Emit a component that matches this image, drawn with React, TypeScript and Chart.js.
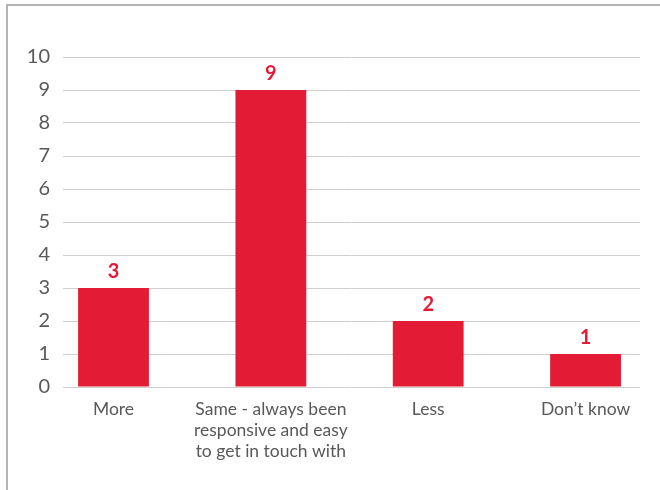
import React, { useEffect, useRef } from "react";
import { Chart, registerables } from "chart.js";

Chart.register(...registerables);

const categories: string[][] = [
  ["More"],
  ["Same - always been", "responsive and easy", "to get in touch with"],
  ["Less"],
  ["Don\u2019t know"],
];
const values: number[] = [3, 9, 2, 1];
const yTicks: number[] = [0, 1, 2, 3, 4, 5, 6, 7, 8, 9, 10];

const RED = "#e31b35";
const TEXT = "#595959";
const FONT = "Lato, 'Open Sans', sans-serif";

const labelPlugin = {
  id: "barValueLabels",
  afterDatasetsDraw(chart: any) {
    const ctx = chart.ctx;
    const meta = chart.getDatasetMeta(0);
    ctx.save();
    ctx.fillStyle = RED;
    ctx.font = `bold 20px ${FONT}`;
    ctx.textAlign = "center";
    ctx.textBaseline = "bottom";
    meta.data.forEach((bar: any, i: number) => {
      ctx.fillText(String(values[i]), bar.x, bar.y - 6);
    });
    ctx.restore();
  },
};

export default function App() {
  const ref = useRef<HTMLCanvasElement | null>(null);
  useEffect(() => {
    if (!ref.current) return;
    const chart = new Chart(ref.current, {
      type: "bar",
      data: {
        datasets: [
          {
            data: values.map((v, i) => ({ x: i, y: v })),
            backgroundColor: RED,
            categoryPercentage: 1,
            barPercentage: 0.45,
          },
        ],
      },
      options: {
        animation: false,
        responsive: false,
        maintainAspectRatio: false,
        layout: { padding: { top: 57, right: 20, bottom: 0, left: 0 } },
        plugins: { legend: { display: false }, tooltip: { enabled: false } },
        scales: {
          x: {
            type: "linear",
            offset: false,
            min: -0.321,
            max: 3.346,
            grid: { display: false, drawTicks: false, offset: false },
            border: { display: false },
            afterBuildTicks: (scale: any) => {
              scale.ticks = categories.map((_, i) => ({ value: i }));
            },
            afterFit: (scale: any) => {
              scale.height = 103;
            },
            ticks: {
              autoSkip: false,
              maxRotation: 0,
              padding: 12,
              color: TEXT,
              font: { family: FONT, size: 17.5, lineHeight: 1.2 },
              callback: (v: any) => categories[Number(v)] ?? "",
            },
          },
          y: {
            min: 0,
            max: 10,
            afterBuildTicks: (scale: any) => {
              scale.ticks = yTicks.map((v) => ({ value: v }));
            },
            afterFit: (scale: any) => {
              scale.width = 63;
            },
            grid: { color: "#cfcfcf", lineWidth: 1, drawTicks: false },
            border: { display: false },
            ticks: {
              padding: 13,
              color: TEXT,
              font: { family: FONT, size: 20 },
            },
          },
        },
      },
      plugins: [labelPlugin],
    });
    return () => chart.destroy();
  }, []);

  return (
    <div>
      <div
        style={{
          position: "absolute",
          left: 6,
          top: 4,
          width: 700,
          height: 540,
          borderLeft: "2px solid #b3b3b3",
          borderTop: "2px solid #b3b3b3",
        }}
      />
      <canvas
        ref={ref}
        width={660}
        height={490}
        style={{ position: "absolute", left: 0, top: 0, width: 660, height: 490 }}
      />
    </div>
  );
}
